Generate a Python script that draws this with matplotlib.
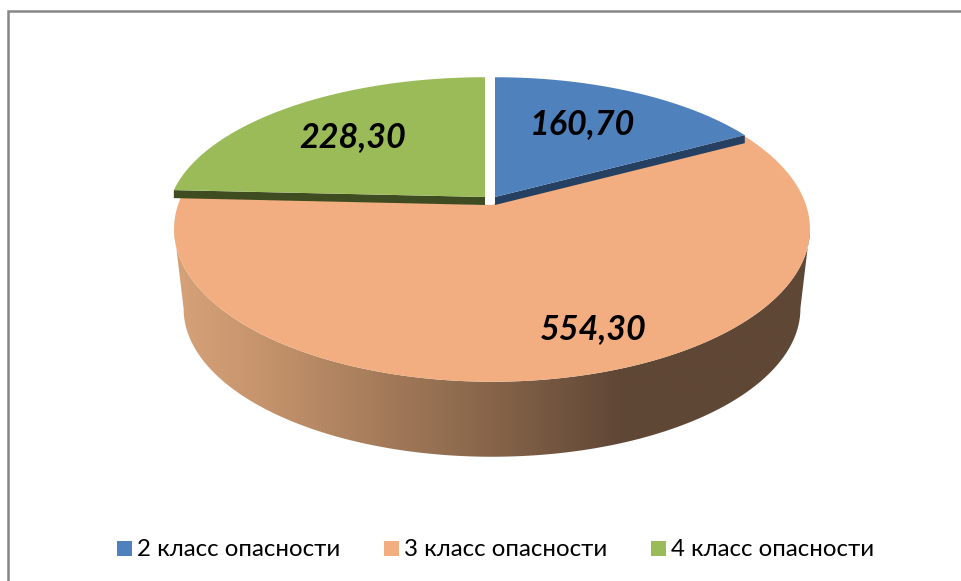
#!/usr/bin/env python3
import numpy as np
import matplotlib
matplotlib.use('Agg')
import matplotlib.pyplot as plt
from matplotlib.colors import LinearSegmentedColormap
from matplotlib.patches import Polygon, Rectangle

plt.rcParams['font.family'] = ['Lato', 'Open Sans', 'DejaVu Sans']

W, H = 961, 581

classes = ['2 класс опасности', '3 класс опасности', '4 класс опасности']
values = [160.70, 554.30, 228.30]
value_labels = ['160,70', '554,30', '228,30']
colors = ['#4F81BD', '#F2AE80', '#9BBB59']
wall_colors = ['#254061', '#5F4735', '#3F4C22']

# perspective of the tilted disc, in pixels
A, B, K = 314., 149., 0.157
DEPTH_F = 0.97     # lower rim is a bit smaller
DEPTH_Y = 80.3


def project(ang, cx, cy, fx=1.0, fy=1.0):
    # ang is clockwise from 12 o'clock
    xx = np.sin(ang)
    yy = np.cos(ang)
    s = 1./(1. + K*yy)
    return cx + fx*A*xx*s, cy - fy*B*yy*s


def slice_poly(a0, a1, cx, cy, fx=1.0, fy=1.0):
    t = np.linspace(a0, a1, 200)
    x, y = project(t, cx, cy, fx, fy)
    return np.column_stack([np.r_[cx, x], np.r_[cy, y]])


fig = plt.figure(figsize=(W/100, H/100), dpi=100)
ax = fig.add_axes([0, 0, 1, 1])
ax.set_xlim(0, W)
ax.set_ylim(H, 0)
ax.axis('off')

# chart frame
ax.plot([8, 8, W], [H, 11, 11], color='#868686', lw=1.8, solid_joinstyle='miter')

# slice angles from the values
angles = np.r_[0, np.cumsum(values)]/np.sum(values)*2*np.pi

# exploded centres and shrink of the two back slices: blue, orange, green
cx = [495., 492., 485.]
cy = [197., 205., 197.]
shrink_x = [0.975, 1.0, 1.0]
shrink_y = [0.93, 1.0, 0.93]
thin = 8.

# thin visible edges of blue and green, above the orange top
for i in [0, 2]:
    a0, a1 = angles[i], angles[i+1]
    edge = a1 if i == 0 else a0
    x1, y1 = project(edge, cx[i], cy[i], shrink_x[i], shrink_y[i])
    ax.add_patch(Polygon([(cx[i], cy[i]), (x1, y1), (x1, y1+thin), (cx[i], cy[i]+thin)],
                         closed=True, fc=wall_colors[i], ec='none', zorder=5))
    ax.add_patch(Polygon(slice_poly(a0, a1, cx[i], cy[i], shrink_x[i], shrink_y[i]),
                         closed=True, fc=colors[i], ec='none', zorder=5))

# orange wall with horizontal gradient, between the two side tangents
t = np.linspace(angles[1], angles[2], 800)
xt, yt = project(t, cx[1], cy[1])
xb, yb = project(t, cx[1], cy[1] + DEPTH_Y, DEPTH_F, DEPTH_F)
i0, i1 = np.argmax(xt), np.argmin(xt)
j0, j1 = np.argmax(xb), np.argmin(xb)
wall = Polygon(np.column_stack([np.r_[xt[i0:i1+1], xb[j0:j1+1][::-1]],
                                np.r_[yt[i0:i1+1], yb[j0:j1+1][::-1]]]),
               closed=True, fc='none', ec='none')
ax.add_patch(wall)
x0, x1 = 170., 815.
stops = [(170, '#D6A27A'), (250, '#C8966E'), (490, '#87654A'), (620, '#604736'), (815, '#5F4735')]
cmap = LinearSegmentedColormap.from_list('wall', [((p-x0)/(x1-x0), c) for p, c in stops])
im = ax.imshow(np.linspace(0, 1, 512).reshape(1, -1), cmap=cmap, aspect='auto',
               extent=[x0, x1, 470, 190], zorder=1)
im.set_clip_path(wall)
ax.set_xlim(0, W)
ax.set_ylim(H, 0)

# orange top runs a little under the neighbours' edges
tuck = np.radians(2.)
ax.add_patch(Polygon(slice_poly(angles[1]-tuck, angles[2]+tuck/2, cx[1], cy[1]), closed=True,
                     fc=colors[1], ec='none', zorder=4))

# data labels
label_pos = [(582, 124), (593, 329), (353, 137)]
for (lx, ly), txt in zip(label_pos, value_labels):
    ax.text(lx, ly, txt, fontsize=24.6, fontweight='bold', fontstyle='italic',
            ha='center', va='center', color='black', zorder=6)

# legend
legend_x = [117, 384, 651]
for lx, name, c in zip(legend_x, classes, colors):
    ax.add_patch(Rectangle((lx, 541), 14.5, 14.5, fc=c, ec='none', zorder=6))
    ax.text(lx+20, 549, name, fontsize=17.3, ha='left', va='center', color='black', zorder=6)

fig.savefig('out.png', dpi=100, facecolor='white')
